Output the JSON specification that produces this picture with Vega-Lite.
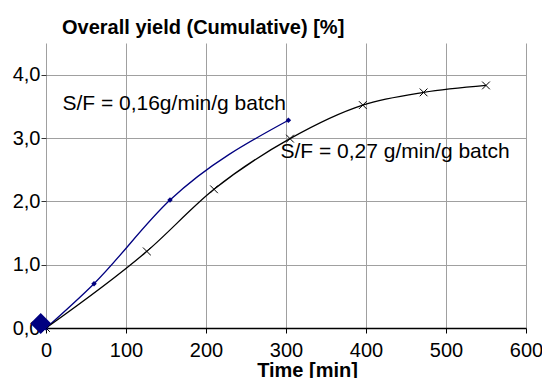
{
  "$schema": "https://vega.github.io/schema/vega-lite/v6.json",
  "width": 480,
  "height": 285,
  "autosize": {"type": "none"},
  "padding": {"left": 46, "top": 43, "right": 16, "bottom": 50},
  "background": "white",
  "config": {
    "font": "Liberation Sans",
    "view": {"stroke": null},
    "axis": {"labelFont": "Liberation Sans", "titleFont": "Liberation Sans", "labelColor": "black", "titleColor": "black"}
  },
  "title": {
    "text": "Overall yield (Cumulative) [%]",
    "anchor": "start",
    "frame": "group",
    "fontSize": 20,
    "fontWeight": "bold",
    "font": "Liberation Sans",
    "color": "black",
    "baseline": "alphabetic",
    "dx": 16,
    "dy": 22,
    "offset": 11
  },
  "datasets": {
    "series": [
      {"t": 0, "y": 0, "s": "S/F = 0,16g/min/g batch"},
      {"t": 60, "y": 0.70, "s": "S/F = 0,16g/min/g batch"},
      {"t": 155, "y": 2.02, "s": "S/F = 0,16g/min/g batch"},
      {"t": 303, "y": 3.28, "s": "S/F = 0,16g/min/g batch"},
      {"t": 0, "y": 0, "s": "S/F = 0,27 g/min/g batch"},
      {"t": 126, "y": 1.21, "s": "S/F = 0,27 g/min/g batch"},
      {"t": 210, "y": 2.19, "s": "S/F = 0,27 g/min/g batch"},
      {"t": 305, "y": 2.99, "s": "S/F = 0,27 g/min/g batch"},
      {"t": 396, "y": 3.52, "s": "S/F = 0,27 g/min/g batch"},
      {"t": 472, "y": 3.72, "s": "S/F = 0,27 g/min/g batch"},
      {"t": 550, "y": 3.83, "s": "S/F = 0,27 g/min/g batch"}
    ],
    "labels": [
      {"t": 20.5, "y": 3.45, "label": "S/F = 0,16g/min/g batch"},
      {"t": 293, "y": 2.69, "label": "S/F = 0,27 g/min/g batch"}
    ],
    "origin": [{"t": -6.6, "y": 0.07}]
  },
  "layer": [
    {
      "data": {"name": "series"},
      "transform": [{"filter": "datum.s == 'S/F = 0,16g/min/g batch'"}],
      "mark": {"type": "line", "interpolate": "monotone", "color": "#000080", "strokeWidth": 1.3, "clip": false},
      "encoding": {
        "x": {
          "field": "t", "type": "quantitative",
          "scale": {"domain": [0, 600], "nice": false, "zero": false},
          "axis": {
            "values": [0, 100, 200, 300, 400, 500, 600],
            "title": "Time [min]",
            "titleFontSize": 20,
            "titleFontWeight": "bold",
            "titleX": 261,
            "titleY": 48,
            "titleBaseline": "alphabetic",
            "titleAnchor": "middle",
            "labelFontSize": 20,
            "labelPadding": 7,
            "tickSize": 5,
            "tickColor": "black",
            "domainColor": "black",
            "domainWidth": 1.3,
            "grid": true,
            "gridColor": "#a0a0a0",
            "gridWidth": 1,
            "labelFlush": false,
            "labelOverlap": false
          }
        },
        "y": {
          "field": "y", "type": "quantitative",
          "scale": {"domain": [0, 4.5], "nice": false},
          "axis": {
            "values": [0, 0.5, 1, 1.5, 2, 2.5, 3, 3.5, 4, 4.5],
            "labelExpr": "datum.value % 1 == 0 ? replace(format(datum.value, '.1f'), '.', ',') : ''",
            "title": null,
            "labelFontSize": 20,
            "labelPadding": 1,
            "tickSize": 5,
            "tickColor": "#333333",
            "domain": false,
            "grid": true,
            "gridColor": "#a0a0a0",
            "gridWidth": 1,
            "labelFlush": false,
            "labelOverlap": false
          }
        }
      }
    },
    {
      "data": {"name": "series"},
      "transform": [{"filter": "datum.s == 'S/F = 0,16g/min/g batch'"}],
      "mark": {"type": "point", "shape": "diamond", "filled": true, "color": "#000080", "size": 30, "opacity": 1},
      "encoding": {
        "x": {"field": "t", "type": "quantitative"},
        "y": {"field": "y", "type": "quantitative"}
      }
    },
    {
      "data": {"name": "series"},
      "transform": [{"filter": "datum.s == 'S/F = 0,27 g/min/g batch'"}],
      "mark": {"type": "line", "interpolate": "monotone", "color": "black", "strokeWidth": 1.3},
      "encoding": {
        "x": {"field": "t", "type": "quantitative"},
        "y": {"field": "y", "type": "quantitative"}
      }
    },
    {
      "data": {"name": "series"},
      "transform": [{"filter": "datum.s == 'S/F = 0,27 g/min/g batch'"}],
      "mark": {"type": "point", "shape": "M-1,-1L1,1M-1,1L1,-1", "filled": false, "color": "black", "strokeWidth": 1, "size": 60, "opacity": 1},
      "encoding": {
        "x": {"field": "t", "type": "quantitative"},
        "y": {"field": "y", "type": "quantitative"}
      }
    },
    {
      "data": {"name": "origin"},
      "mark": {"type": "point", "shape": "diamond", "filled": true, "color": "#000080", "size": 440, "opacity": 1, "clip": false},
      "encoding": {
        "x": {"field": "t", "type": "quantitative"},
        "y": {"field": "y", "type": "quantitative"}
      }
    },
    {
      "data": {"name": "labels"},
      "mark": {"type": "text", "align": "left", "baseline": "alphabetic", "fontSize": 21, "font": "Liberation Sans", "color": "black"},
      "encoding": {
        "x": {"field": "t", "type": "quantitative"},
        "y": {"field": "y", "type": "quantitative"},
        "text": {"field": "label"}
      }
    }
  ]
}
